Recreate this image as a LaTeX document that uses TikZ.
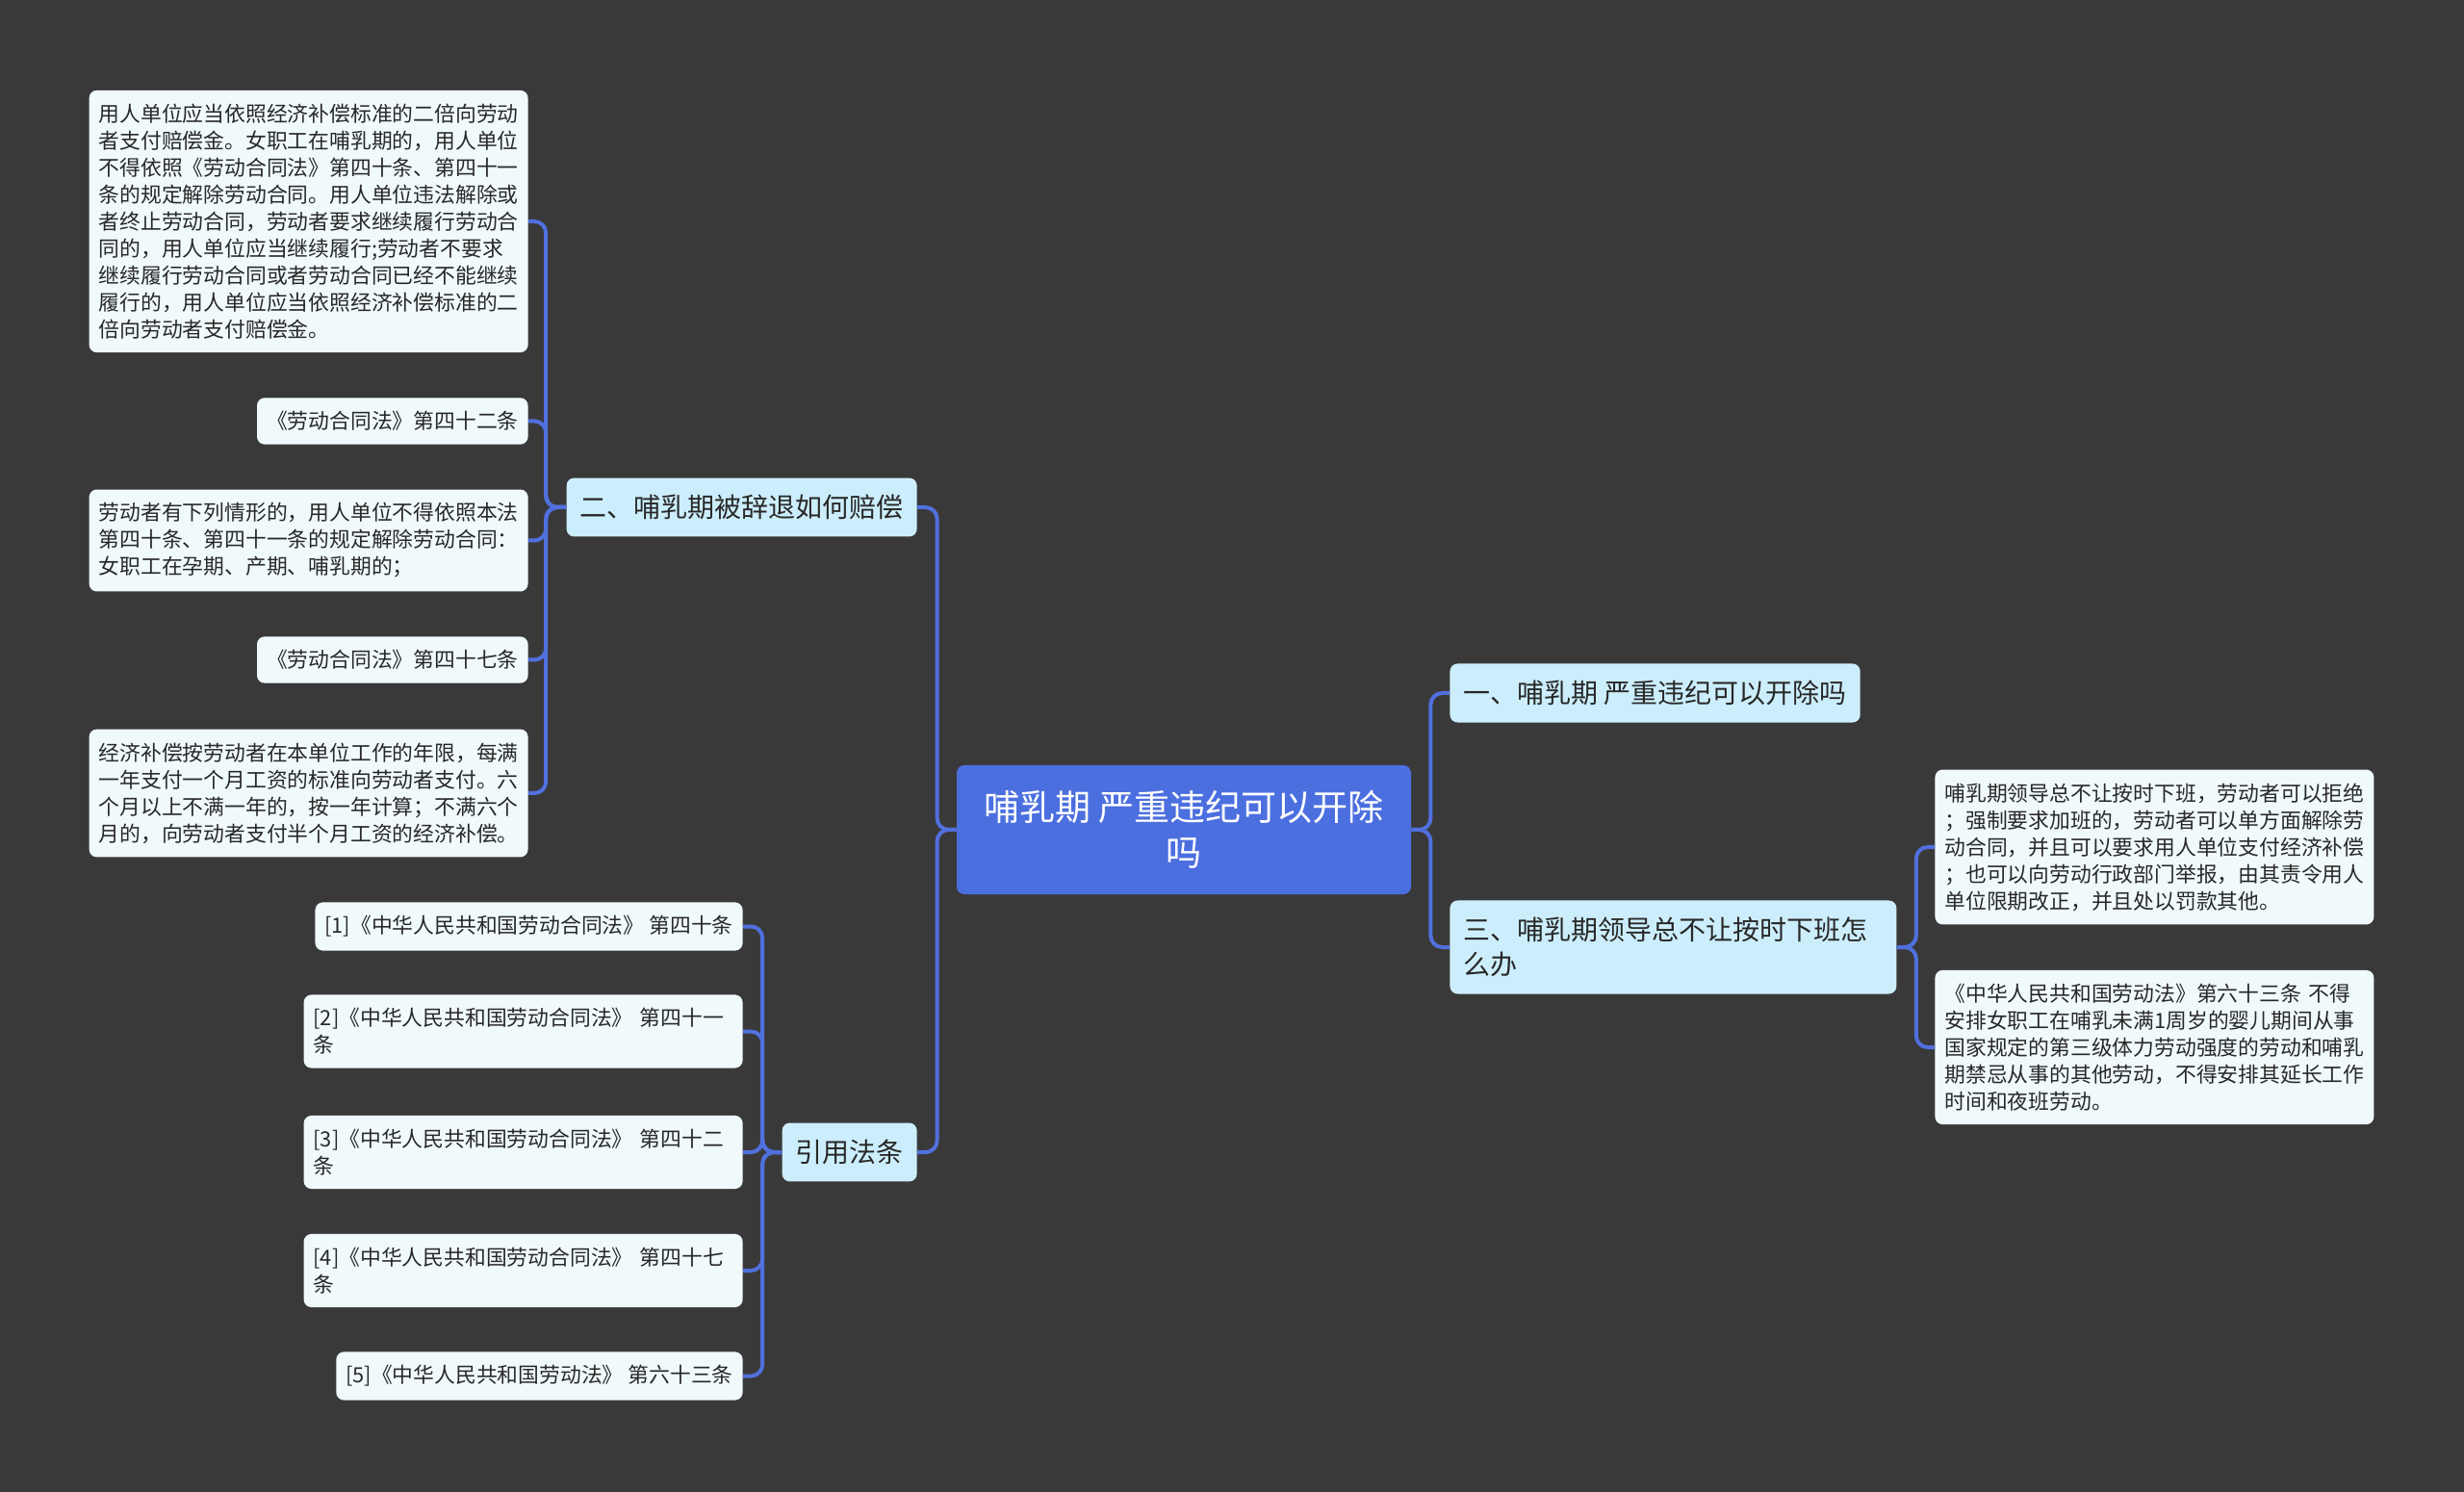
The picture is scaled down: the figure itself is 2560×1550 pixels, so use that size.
\documentclass[tikz,border=0pt]{standalone}
\usepackage{fontspec}
\setmainfont{Noto Sans CJK SC}
\definecolor{bgc}{RGB}{58,57,58}
\definecolor{rootc}{RGB}{76,111,224}
\definecolor{lonec}{RGB}{204,238,252}
\definecolor{leafc}{RGB}{240,250,253}
\definecolor{linec}{RGB}{80,112,222}
\definecolor{txtc}{RGB}{40,40,40}
\begin{document}
\begin{tikzpicture}[x=0.5pt,y=-0.5pt,
  rootbox/.style={fill=rootc, rounded corners=4pt, text=white, font=\fontsize{18.5}{23.5}\selectfont, align=center, minimum width=236pt, minimum height=67pt, inner sep=0pt},
  lonebox/.style={fill=lonec, rounded corners=4pt, text=txtc, font=\fontsize{14}{18}\selectfont, inner xsep=7pt, inner ysep=8.75pt},
  leafbox/.style={fill=leafc, rounded corners=4pt, text=txtc, font=\fontsize{10.9}{14}\selectfont, inner xsep=5pt, inner ysep=7pt},
  multi/.style={text width=218pt, align=left},
  conn/.style={draw=linec, line width=2pt, rounded corners=6pt}]
\fill[bgc] (0,0) rectangle (2560,1550);
\useasboundingbox (0,0) rectangle (2560,1550);

% root
\node[rootbox] (root) at (1230,862) {哺乳期 严重违纪可以开除\\吗};

% level 1
\node[lonebox, anchor=east] (A) at (953,527) {二、哺乳期被辞退如何赔偿};
\node[lonebox, anchor=east] (B) at (953,1197) {引用法条};
\node[lonebox, anchor=west] (C) at (1506,720) {一、哺乳期 严重违纪可以开除吗};
\node[lonebox, anchor=west, text width=218pt, align=left] (D) at (1506,984) {三、哺乳期领导总不让按时下班怎\\么办};

% group A leaves
\node[leafbox, multi, anchor=east] (A1) at (549,230) {用人单位应当依照经济补偿标准的二倍向劳动\\者支付赔偿金。女职工在哺乳期的，用人单位\\不得依照《劳动合同法》第四十条、第四十一\\条的规定解除劳动合同。用人单位违法解除或\\者终止劳动合同，劳动者要求继续履行劳动合\\同的，用人单位应当继续履行;劳动者不要求\\继续履行劳动合同或者劳动合同已经不能继续\\履行的，用人单位应当依照经济补偿标准的二\\倍向劳动者支付赔偿金。};
\node[leafbox, anchor=east] (A2) at (549,437.5) {《劳动合同法》第四十二条};
\node[leafbox, multi, anchor=east] (A3) at (549,561.5) {劳动者有下列情形的，用人单位不得依照本法\\第四十条、第四十一条的规定解除劳动合同：\\女职工在孕期、产期、哺乳期的；};
\node[leafbox, anchor=east] (A4) at (549,685.5) {《劳动合同法》第四十七条};
\node[leafbox, multi, anchor=east] (A5) at (549,824) {经济补偿按劳动者在本单位工作的年限，每满\\一年支付一个月工资的标准向劳动者支付。六\\个月以上不满一年的，按一年计算；不满六个\\月的，向劳动者支付半个月工资的经济补偿。};

% group B leaves
\node[leafbox, anchor=east] (B1) at (772,962.5) {[1]《中华人民共和国劳动合同法》 第四十条};
\node[leafbox, multi, anchor=east] (B2) at (772,1071.5) {[2]《中华人民共和国劳动合同法》 第四十一\\条};
\node[leafbox, multi, anchor=east] (B3) at (772,1197) {[3]《中华人民共和国劳动合同法》 第四十二\\条};
\node[leafbox, multi, anchor=east] (B4) at (772,1320) {[4]《中华人民共和国劳动合同法》 第四十七\\条};
\node[leafbox, anchor=east] (B5) at (772,1429.5) {[5]《中华人民共和国劳动法》 第六十三条};

% group D leaves
\node[leafbox, multi, anchor=west] (D1) at (2010,880) {哺乳期领导总不让按时下班，劳动者可以拒绝\\；强制要求加班的，劳动者可以单方面解除劳\\动合同，并且可以要求用人单位支付经济补偿\\；也可以向劳动行政部门举报，由其责令用人\\单位限期改正，并且处以罚款其他。};
\node[leafbox, multi, anchor=west] (D2) at (2010,1088) {《中华人民共和国劳动法》第六十三条 不得\\安排女职工在哺乳未满1周岁的婴儿期间从事\\国家规定的第三级体力劳动强度的劳动和哺乳\\期禁忌从事的其他劳动，不得安排其延长工作\\时间和夜班劳动。};

% connectors
\foreach \c in {A,B} \draw[conn] (root.west) -- ++(-20,0) |- (\c.east);
\foreach \c in {C,D} \draw[conn] (root.east) -- ++(20,0) |- (\c.west);
\foreach \c in {A1,A2,A3,A4,A5} \draw[conn] (A.west) -- ++(-21,0) |- (\c.east);
\foreach \c in {B1,B2,B3,B4,B5} \draw[conn] (B.west) -- ++(-20,0) |- (\c.east);
\foreach \c in {D1,D2} \draw[conn] (D.east) -- ++(20,0) |- (\c.west);
\end{tikzpicture}
\end{document}
